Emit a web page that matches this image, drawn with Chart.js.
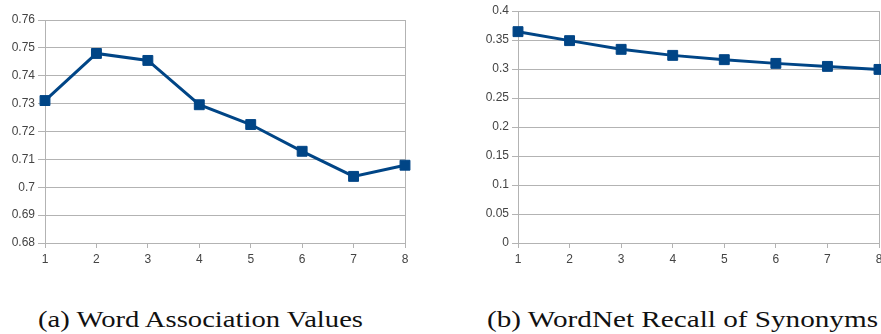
<!DOCTYPE html>
<html>
<head>
<meta charset="utf-8">
<script src="https://cdn.jsdelivr.net/npm/chart.js@4/dist/chart.umd.min.js"></script>
<style>
  html, body { margin: 0; padding: 0; background: #fff; overflow: hidden; width: 881px; height: 334px; }
  .panel { position: absolute; top: 0; height: 270px; }
  .caption {
    position: absolute; top: 307px; display: inline-block; white-space: nowrap;
    font-family: "Liberation Serif", "DejaVu Serif", serif; font-size: 24px; line-height: 24px;
    color: #111; transform-origin: 0 0;
  }
</style>
</head>
<body>
<div class="panel" style="left:0;width:420px"><canvas id="chartA" width="420" height="270"></canvas></div>
<div class="panel" style="left:460px;width:440px"><canvas id="chartB" width="440" height="270"></canvas></div>
<div class="caption" id="capA" data-w="325" style="left:38px">(a) Word Association Values</div>
<div class="caption" id="capB" data-w="391" style="left:487px">(b) WordNet Recall of Synonyms</div>
<script>
// x categories shared by both panels
const windowSizes = ['1', '2', '3', '4', '5', '6', '7', '8'];

// (a) word association values
const associationValues = [0.7311, 0.7480, 0.7455, 0.7296, 0.7225, 0.7129, 0.7039, 0.7079];
const associationTicks = [0.68, 0.69, 0.70, 0.71, 0.72, 0.73, 0.74, 0.75, 0.76];

// (b) WordNet recall of synonyms
const recallValues = [0.3644, 0.3489, 0.3339, 0.3235, 0.3161, 0.3097, 0.3045, 0.2993];
const recallTicks = [0, 0.05, 0.10, 0.15, 0.20, 0.25, 0.30, 0.35, 0.40];

const LINE = '#004586';
const GRID = '#b3b3b3';
const TEXT = '#444444';
const tickFont = { family: '"Liberation Sans", Arial, sans-serif', size: 12 };

function fmt(v) { return String(Math.round(v * 1000) / 1000); }

function makeChart(id, values, yTicks, geom) {
  const lastIdx = windowSizes.length - 1;
  return new Chart(document.getElementById(id), {
    type: 'line',
    data: {
      labels: windowSizes,
      datasets: [{
        data: values,
        borderColor: LINE,
        backgroundColor: LINE,
        borderWidth: 3,
        pointStyle: 'rect',
        pointRadius: 7,
        pointBorderWidth: 1,
        pointBackgroundColor: LINE,
        pointBorderColor: LINE,
        tension: 0,
        clip: false
      }]
    },
    options: {
      responsive: false,
      animation: false,
      devicePixelRatio: 1,
      layout: { padding: { top: geom.top, right: geom.right, bottom: 0, left: 0 } },
      plugins: { legend: { display: false }, tooltip: { enabled: false } },
      scales: {
        x: {
          type: 'category',
          offset: false,
          border: { color: GRID, width: 1 },
          grid: {
            color: (c) => (c.index === lastIdx ? GRID : 'rgba(0,0,0,0)'),
            tickColor: GRID,
            tickLength: 5,
            lineWidth: 1
          },
          ticks: { color: TEXT, font: tickFont, padding: 4, maxRotation: 0, autoSkip: false },
          afterFit: (s) => { s.height = 27; }
        },
        y: {
          min: yTicks[0],
          max: yTicks[yTicks.length - 1],
          border: { color: GRID, width: 1 },
          grid: { color: GRID, tickColor: GRID, tickLength: geom.tick, lineWidth: 1 },
          ticks: { color: TEXT, font: tickFont, padding: 3, callback: (v) => fmt(v) },
          afterBuildTicks: (s) => { s.ticks = yTicks.map((v) => ({ value: v })); },
          afterFit: (s) => { s.width = geom.yWidth; }
        }
      }
    }
  });
}

makeChart('chartA', associationValues, associationTicks, { top: 20, right: 15, yWidth: 45, tick: 7 });
makeChart('chartB', recallValues, recallTicks, { top: 11, right: 21, yWidth: 58, tick: 6 });

// stretch captions to their set widths
function fitCaptions() {
  document.querySelectorAll('.caption').forEach((el) => {
    el.style.transform = 'none';
    const w = el.getBoundingClientRect().width;
    el.style.transform = 'scaleX(' + (Number(el.dataset.w) / w) + ')';
  });
}
fitCaptions();
if (document.fonts && document.fonts.ready) document.fonts.ready.then(fitCaptions);
</script>
</body>
</html>
